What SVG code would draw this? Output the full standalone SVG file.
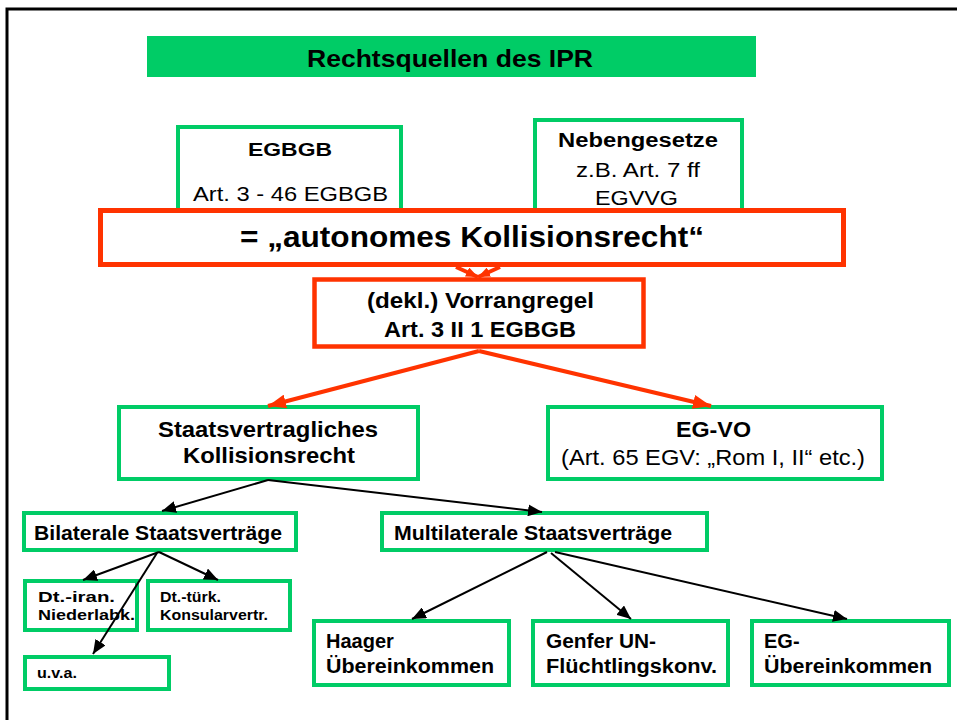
<svg xmlns="http://www.w3.org/2000/svg" width="957" height="720" viewBox="0 0 957 720">
<style>
text{font-family:"Liberation Sans",Arial,sans-serif;fill:#000}
.b{font-weight:bold}
.g{fill:#fff;stroke:#00CC66;stroke-width:4}
.r{fill:#fff;stroke:#FF3300}
.cb{stroke:#000;stroke-width:2;fill:none}
.cr{stroke:#FF3300;stroke-width:4;fill:none}
</style>
<defs>
<marker id="ab" markerUnits="userSpaceOnUse" markerWidth="14" markerHeight="12" refX="14" refY="6" orient="auto"><path d="M0,0 L14,6 L0,12 z" fill="#000"/></marker>
<marker id="ar" markerUnits="userSpaceOnUse" markerWidth="18" markerHeight="14" refX="18" refY="7" orient="auto"><path d="M0,0 L18,7 L0,14 z" fill="#FF3300"/></marker>
<marker id="ar2" markerUnits="userSpaceOnUse" markerWidth="12" markerHeight="10" refX="12" refY="5" orient="auto"><path d="M0,0 L12,5 L0,10 z" fill="#FF3300"/></marker>
</defs>
<rect width="957" height="720" fill="#fff"/>
<rect x="7" y="9" width="1000" height="800" fill="none" stroke="#000" stroke-width="3"/>

<g id="title">
<rect x="147" y="36" width="609" height="41" fill="#00CC66"/>
<text class="b" x="307" y="67" font-size="24" textLength="286" lengthAdjust="spacingAndGlyphs">Rechtsquellen des IPR</text>
</g>

<g id="egbgb">
<rect class="g" x="178" y="127" width="223" height="90"/>
<text class="b" x="248" y="156" font-size="19" textLength="84" lengthAdjust="spacingAndGlyphs">EGBGB</text>
<text x="193" y="201" font-size="21" textLength="195" lengthAdjust="spacingAndGlyphs">Art. 3 - 46 EGBGB</text>
</g>

<g id="nebengesetze">
<rect class="g" x="535" y="120" width="207" height="95"/>
<text class="b" x="558" y="147" font-size="20" textLength="160" lengthAdjust="spacingAndGlyphs">Nebengesetze</text>
<text x="576" y="177" font-size="20" textLength="124" lengthAdjust="spacingAndGlyphs">z.B. Art. 7 ff</text>
<text x="595" y="205" font-size="20" textLength="83" lengthAdjust="spacingAndGlyphs">EGVVG</text>
</g>

<g id="autonom">
<rect class="r" x="100.5" y="210.5" width="743" height="54" stroke-width="5"/>
<text class="b" x="240" y="247" font-size="30" textLength="464" lengthAdjust="spacingAndGlyphs">= „autonomes Kollisionsrecht“</text>
</g>

<g id="vorrang">
<rect class="r" x="314.5" y="279.5" width="329" height="67" stroke-width="4.5"/>
<text class="b" x="367" y="308" font-size="22" textLength="227" lengthAdjust="spacingAndGlyphs">(dekl.) Vorrangregel</text>
<text class="b" x="384" y="337" font-size="22" textLength="192" lengthAdjust="spacingAndGlyphs">Art. 3 II 1 EGBGB</text>
</g>

<g id="staats">
<rect class="g" x="119" y="407" width="299" height="72"/>
<text class="b" x="158" y="437" font-size="22" textLength="220" lengthAdjust="spacingAndGlyphs">Staatsvertragliches</text>
<text class="b" x="183" y="463" font-size="22" textLength="172" lengthAdjust="spacingAndGlyphs">Kollisionsrecht</text>
</g>

<g id="egvo">
<rect class="g" x="548" y="407" width="334" height="72"/>
<text class="b" x="676" y="437" font-size="22" textLength="75" lengthAdjust="spacingAndGlyphs">EG-VO</text>
<text x="561" y="465" font-size="22" textLength="304" lengthAdjust="spacingAndGlyphs">(Art. 65 EGV: „Rom I, II“ etc.)</text>
</g>

<g id="bilateral">
<rect class="g" x="24" y="513" width="272" height="37"/>
<text class="b" x="34" y="540" font-size="20" textLength="248" lengthAdjust="spacingAndGlyphs">Bilaterale Staatsverträge</text>
</g>

<g id="multilateral">
<rect class="g" x="382" y="513" width="325" height="37"/>
<text class="b" x="394" y="540" font-size="20" textLength="278" lengthAdjust="spacingAndGlyphs">Multilaterale Staatsverträge</text>
</g>

<g id="dtiran">
<rect class="g" x="25" y="581" width="112" height="49"/>
<text class="b" x="38" y="602" font-size="14" textLength="77" lengthAdjust="spacingAndGlyphs">Dt.-iran.</text>
<text class="b" x="38" y="620" font-size="14" textLength="97" lengthAdjust="spacingAndGlyphs">Niederlabk.</text>
</g>

<g id="dttuerk">
<rect class="g" x="148" y="581" width="142" height="49"/>
<text class="b" x="160" y="602" font-size="14" textLength="61" lengthAdjust="spacingAndGlyphs">Dt.-türk.</text>
<text class="b" x="160" y="620" font-size="14" textLength="108" lengthAdjust="spacingAndGlyphs">Konsularvertr.</text>
</g>

<g id="uva">
<rect class="g" x="25" y="657" width="144" height="32"/>
<text class="b" x="37" y="678" font-size="14" textLength="40" lengthAdjust="spacingAndGlyphs">u.v.a.</text>
</g>

<g id="haager">
<rect class="g" x="314" y="621" width="195" height="64"/>
<text class="b" x="326" y="648" font-size="20">Haager</text>
<text class="b" x="326" y="673" font-size="20" textLength="168" lengthAdjust="spacingAndGlyphs">Übereinkommen</text>
</g>

<g id="genfer">
<rect class="g" x="533" y="621" width="195" height="64"/>
<text class="b" x="546" y="648" font-size="20" textLength="110" lengthAdjust="spacingAndGlyphs">Genfer UN-</text>
<text class="b" x="546" y="673" font-size="20" textLength="171" lengthAdjust="spacingAndGlyphs">Flüchtlingskonv.</text>
</g>

<g id="egueber">
<rect class="g" x="752" y="621" width="197" height="64"/>
<text class="b" x="764" y="648" font-size="20">EG-</text>
<text class="b" x="764" y="673" font-size="20" textLength="168" lengthAdjust="spacingAndGlyphs">Übereinkommen</text>
</g>

<g id="connectors">
<line class="cr" x1="456" y1="267" x2="478" y2="277" marker-end="url(#ar2)" stroke-width="3"/>
<line class="cr" x1="500" y1="267" x2="478" y2="277" marker-end="url(#ar2)" stroke-width="3"/>
<line class="cr" x1="479" y1="351" x2="268" y2="406" marker-end="url(#ar)"/>
<line class="cr" x1="479" y1="351" x2="711" y2="406" marker-end="url(#ar)"/>
<line class="cb" x1="268" y1="480" x2="162" y2="511" marker-end="url(#ab)"/>
<line class="cb" x1="268" y1="480" x2="542" y2="512" marker-end="url(#ab)"/>
<line class="cb" x1="159" y1="552" x2="83" y2="580" marker-end="url(#ab)"/>
<line class="cb" x1="159" y1="552" x2="218" y2="580" marker-end="url(#ab)"/>
<line class="cb" x1="157" y1="553" x2="93" y2="654" marker-end="url(#ab)"/>
<line class="cb" x1="547" y1="552" x2="412" y2="619" marker-end="url(#ab)"/>
<line class="cb" x1="551" y1="553" x2="631" y2="619" marker-end="url(#ab)"/>
<line class="cb" x1="555" y1="552" x2="847" y2="619" marker-end="url(#ab)"/>
</g>
</svg>
